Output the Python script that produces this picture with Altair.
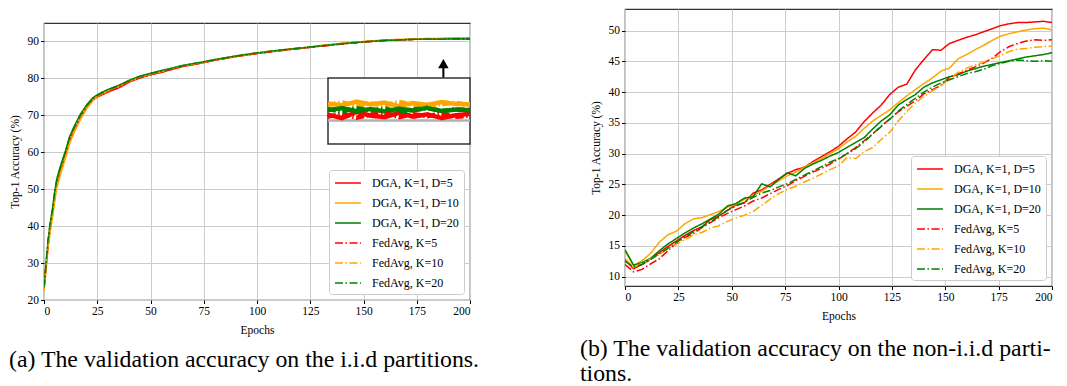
import altair as alt
import pandas as pd

FONT = "Liberation Serif"

series_names = ["DGA, K=1, D=5", "DGA, K=1, D=10", "DGA, K=1, D=20",
                "FedAvg, K=5", "FedAvg, K=10", "FedAvg, K=20"]
series_colors = ["#ff0000", "#ffa500", "#008000", "#ff0000", "#ffa500", "#008000"]
series_dashes = [[1, 0], [1, 0], [1, 0], [8, 2.5, 1.5, 2.5], [8, 2.5, 1.5, 2.5], [8, 2.5, 1.5, 2.5]]

x_ticks = [0, 25, 50, 75, 100, 125, 150, 175, 200]
y_ticks_left = [20, 30, 40, 50, 60, 70, 80, 90]
y_ticks_right = [10, 15, 20, 25, 30, 35, 40, 45, 50]

# ---------------- (a) i.i.d partitions ----------------
epochs_l = [0, 1, 2, 3, 4, 5, 6, 8, 10, 12, 14, 17, 20, 23, 26, 30,
            35, 40, 45, 50, 55, 60, 65, 70, 75, 80, 85, 90, 95, 100, 105, 110, 115, 120,
            125, 130, 135, 140, 145, 150, 155, 160, 165, 170, 175, 180, 185, 190, 195, 200]
l_dga5 = [23.0, 29.0, 35.2, 39.8, 43.5, 47.6, 51.5, 55.4, 59.0, 63.0, 65.6, 69.0, 72.0, 74.2, 75.2, 76.3,
          77.4, 79.0, 80.1, 81.0, 81.6, 82.4, 83.2, 83.7, 84.3, 84.9, 85.4, 85.9, 86.3, 86.8, 87.1, 87.5, 87.8, 88.1,
          88.4, 88.8, 89.1, 89.4, 89.6, 89.9, 90.1, 90.3, 90.4, 90.5, 90.6, 90.6, 90.7, 90.7, 90.7, 90.7]
l_dga10 = [22.5, 28.5, 34.5, 38.8, 42.3, 46.5, 50.3, 54.5, 58.2, 62.3, 65.2, 68.8, 71.8, 74.0, 75.4, 76.6,
           77.8, 79.2, 80.3, 81.1, 81.8, 82.6, 83.3, 83.9, 84.4, 85.0, 85.5, 86.0, 86.4, 86.8, 87.2, 87.5, 87.9, 88.2,
           88.5, 88.9, 89.2, 89.5, 89.7, 90.0, 90.2, 90.4, 90.5, 90.6, 90.7, 90.8, 90.8, 90.9, 90.9, 90.9]
l_dga20 = [23.5, 30.0, 36.5, 41.2, 44.8, 49.2, 52.8, 56.8, 60.2, 64.2, 66.8, 70.2, 72.8, 74.8, 75.9, 77.0,
           78.1, 79.5, 80.6, 81.4, 82.1, 82.8, 83.5, 84.0, 84.5, 85.1, 85.6, 86.1, 86.5, 86.9, 87.3, 87.6, 87.9, 88.2,
           88.5, 88.8, 89.1, 89.4, 89.6, 89.9, 90.1, 90.3, 90.4, 90.5, 90.6, 90.7, 90.7, 90.8, 90.8, 90.8]
l_fed5 = [23.0, 29.8, 35.8, 40.2, 43.8, 48.2, 51.8, 55.8, 59.3, 63.3, 65.8, 69.3, 72.1, 74.3, 75.4, 76.6,
          77.6, 79.1, 80.2, 81.0, 81.8, 82.5, 83.3, 83.8, 84.3, 84.9, 85.4, 85.9, 86.3, 86.7, 87.1, 87.4, 87.8, 88.1,
          88.4, 88.7, 89.0, 89.3, 89.6, 89.8, 90.0, 90.2, 90.3, 90.5, 90.6, 90.6, 90.6, 90.7, 90.7, 90.6]
l_fed10 = [22.8, 29.0, 35.0, 39.5, 43.0, 47.2, 51.0, 55.0, 58.8, 62.8, 65.5, 69.0, 72.0, 74.2, 75.5, 76.7,
           77.9, 79.3, 80.4, 81.2, 81.9, 82.7, 83.4, 83.9, 84.4, 85.0, 85.5, 86.0, 86.4, 86.9, 87.3, 87.6, 87.9, 88.2,
           88.5, 88.9, 89.2, 89.5, 89.7, 90.0, 90.2, 90.4, 90.5, 90.6, 90.7, 90.8, 90.8, 90.8, 90.9, 90.9]
l_fed20 = [23.3, 30.2, 36.8, 41.0, 44.5, 49.0, 52.5, 56.5, 60.0, 64.0, 66.5, 70.0, 72.6, 74.6, 75.7, 76.9,
           78.0, 79.4, 80.5, 81.3, 82.0, 82.7, 83.4, 84.0, 84.5, 85.0, 85.5, 86.0, 86.5, 86.9, 87.2, 87.6, 87.9, 88.2,
           88.5, 88.8, 89.1, 89.4, 89.7, 89.9, 90.1, 90.3, 90.4, 90.5, 90.6, 90.7, 90.7, 90.7, 90.8, 90.8]

# zoomed inset (last epochs)
inset_epochs = [180, 182, 184, 186, 188, 190, 192, 194, 196, 198, 200]
in_dga5 = [90.62, 90.55, 90.68, 90.60, 90.57, 90.66, 90.58, 90.63, 90.55, 90.61, 90.64]
in_dga10 = [90.86, 90.82, 90.90, 90.84, 90.88, 90.80, 90.87, 90.83, 90.89, 90.85, 90.84]
in_dga20 = [90.72, 90.76, 90.70, 90.74, 90.69, 90.75, 90.71, 90.77, 90.70, 90.73, 90.72]
in_fed5 = [90.58, 90.64, 90.56, 90.62, 90.66, 90.57, 90.63, 90.59, 90.65, 90.58, 90.60]
in_fed10 = [90.83, 90.88, 90.81, 90.86, 90.82, 90.89, 90.84, 90.80, 90.85, 90.87, 90.83]
in_fed20 = [90.74, 90.69, 90.76, 90.71, 90.75, 90.68, 90.73, 90.76, 90.70, 90.74, 90.71]
inset_x_domain = [180, 200]
inset_y_domain = [90.0, 91.4]
inset_ref_line = [90.5]
arrow_epoch = [187.5]
arrow_from = [80.2]
arrow_to = [83.0]
arrow_tip = [84.0]

# ---------------- (b) non-i.i.d partitions ----------------
epochs_r = list(range(0, 201, 4))
r_dga5 = [12.8, 11.3, 12.0, 12.9, 13.9, 14.9, 15.8, 16.7, 17.5, 18.1, 19.3, 19.9, 20.8, 21.7, 22.0, 23.6,
          24.1, 25.0, 25.9, 26.8, 27.4, 27.8, 28.7, 29.5, 30.3, 31.2,
          32.4, 33.5, 35.2, 36.6, 37.9, 39.6, 40.8, 41.3, 43.6, 45.3, 46.9, 46.8, 47.9, 48.4, 48.9, 49.3,
          49.8, 50.3, 50.8, 51.1, 51.3, 51.3, 51.4, 51.5, 51.3]
r_dga10 = [14.2, 11.8, 12.6, 13.8, 15.6, 16.8, 17.4, 18.6, 19.4, 19.6, 20.1, 20.6, 21.3, 21.8, 22.6, 23.2,
           23.9, 24.8, 25.6, 26.4, 27.0, 27.8, 28.5, 29.2, 30.0, 30.8,
           31.9, 32.8, 34.1, 35.3, 36.2, 37.1, 38.3, 39.4, 40.4, 41.4, 42.3, 43.4, 43.9, 45.4, 46.1, 46.9,
           47.6, 48.4, 49.1, 49.5, 49.8, 50.1, 50.3, 50.4, 50.1]
r_dga20 = [14.4, 11.9, 12.3, 13.0, 14.2, 15.3, 16.2, 17.1, 17.9, 18.6, 19.4, 20.2, 21.5, 21.9, 22.8, 23.0,
           25.1, 24.6, 25.8, 26.9, 26.4, 27.6, 28.3, 28.9, 29.6, 30.2,
           31.0, 31.8, 32.6, 34.0, 35.3, 36.3, 37.9, 38.8, 39.6, 40.8, 41.5, 42.0, 42.5, 42.8, 43.4, 43.8,
           44.2, 44.5, 44.8, 45.1, 45.4, 45.7, 45.9, 46.1, 46.4]
r_fed5 = [12.0, 10.8, 11.2, 12.1, 12.9, 14.2, 15.4, 16.4, 17.0, 18.0, 18.8, 19.6, 20.3, 20.9, 21.5, 22.3,
          22.8, 23.5, 24.2, 24.8, 25.6, 26.3, 27.0, 27.6, 28.3, 29.1,
          30.0, 31.0, 32.1, 33.2, 34.5, 35.6, 36.8, 37.7, 38.6, 39.7, 40.4, 41.1, 42.4, 43.0, 43.5, 44.1,
          44.7, 45.5, 46.6, 47.4, 47.9, 48.3, 48.5, 48.4, 48.5]
r_fed10 = [13.0, 11.5, 12.2, 12.9, 13.6, 14.5, 15.3, 16.0, 16.8, 17.2, 17.9, 18.3, 19.0, 19.6, 20.0, 20.6,
           21.6, 22.6, 23.5, 24.2, 24.7, 25.4, 26.0, 26.7, 27.4, 28.0,
           29.4, 29.2, 30.3, 31.0, 32.3, 33.5, 35.3, 36.9, 38.2, 39.3, 40.2, 41.1, 42.1, 43.2, 43.9, 44.4,
           44.9, 45.4, 46.0, 46.6, 47.0, 47.1, 47.3, 47.4, 47.5]
r_fed20 = [12.5, 11.6, 12.0, 12.8, 13.7, 14.6, 15.6, 16.5, 17.3, 18.1, 18.9, 19.8, 20.8, 21.5, 22.1, 22.9,
           23.6, 24.0, 24.6, 25.1, 25.8, 26.5, 27.2, 27.9, 28.6, 29.2,
           30.0, 30.8, 31.9, 33.2, 34.4, 35.6, 36.9, 38.0, 39.0, 40.0, 40.8, 41.5, 42.0, 42.5, 43.0, 43.3,
           43.7, 44.3, 44.7, 45.0, 45.2, 45.1, 45.0, 45.1, 45.0]

caption_a = "(a) The validation accuracy on the i.i.d partitions."
caption_b = ["(b) The validation accuracy on the non-i.i.d parti-", "tions."]


def long_df(epochs, lists):
    rows = []
    for order, (name, vals) in enumerate(zip(series_names, lists)):
        for e, v in zip(epochs, vals):
            rows.append({"epoch": e, "acc": v, "series": name, "order": order})
    return pd.DataFrame(rows)


df_l = long_df(epochs_l, [l_dga5, l_dga10, l_dga20, l_fed5, l_fed10, l_fed20])
df_r = long_df(epochs_r, [r_dga5, r_dga10, r_dga20, r_fed5, r_fed10, r_fed20])
df_in = long_df(inset_epochs, [in_dga5, in_dga10, in_dga20, in_fed5, in_fed10, in_fed20])

legend = alt.Legend(
    title=None, orient="bottom-right", offset=6, labelFont=FONT, labelFontSize=12,
    labelColor="black", symbolType="M-1,0H2.7", symbolSize=196, symbolStrokeWidth=1.6,
    rowPadding=6, padding=5, labelOffset=22, strokeColor="#cccccc", fillColor="white",
    cornerRadius=3, labelLimit=300,
)
color_enc = alt.Color("series:N", scale=alt.Scale(domain=series_names, range=series_colors), legend=legend)
dash_enc = alt.StrokeDash("series:N", scale=alt.Scale(domain=series_names, range=series_dashes), legend=legend)
color_nolegend = alt.Color("series:N", scale=alt.Scale(domain=series_names, range=series_colors), legend=None)
dash_nolegend = alt.StrokeDash("series:N", scale=alt.Scale(domain=series_names, range=series_dashes), legend=None)

x_axis = alt.Axis(values=x_ticks, title="Epochs", grid=True)
x_scale = alt.Scale(domain=[0, 200], nice=False, zero=False)


def y_axis(yticks):
    return alt.Axis(values=yticks, title="Top-1 Accuracy (%)", grid=True)


def main_lines(df, ydom, yticks):
    return alt.Chart(df).mark_line(strokeWidth=1.5, clip=True).encode(
        x=alt.X("epoch:Q", scale=x_scale, axis=x_axis),
        y=alt.Y("acc:Q", scale=alt.Scale(domain=ydom, nice=False, zero=False), axis=y_axis(yticks)),
        color=color_enc, strokeDash=dash_enc, order="order:Q",
    )


W_L, H_L = 426, 277
W_R, H_R = 427, 277
ydom_l = [20, 95]

left_lines = main_lines(df_l, ydom_l, y_ticks_left)

arrow_df = pd.DataFrame({"e": arrow_epoch, "a0": arrow_from, "a1": arrow_to, "tip": arrow_tip})
y_scale_l = alt.Scale(domain=ydom_l, nice=False, zero=False)
arrow_rule = alt.Chart(arrow_df).mark_rule(color="black", strokeWidth=2).encode(
    x=alt.X("e:Q", scale=x_scale, axis=x_axis),
    y=alt.Y("a0:Q", scale=y_scale_l, axis=y_axis(y_ticks_left)), y2="a1:Q")
arrow_head = alt.Chart(arrow_df).mark_point(shape="triangle-up", filled=True, color="black",
                                             opacity=1, size=110).encode(
    x=alt.X("e:Q", scale=x_scale, axis=x_axis),
    y=alt.Y("tip:Q", scale=y_scale_l, axis=y_axis(y_ticks_left)))
left_main = alt.layer(left_lines, arrow_rule, arrow_head)

in_xs = alt.Scale(domain=inset_x_domain, range=[284, 426], nice=False, zero=False)
in_ys = alt.Scale(domain=inset_y_domain, range=[121, 55], nice=False, zero=False)
box_df = pd.DataFrame({"x0": [inset_x_domain[0]], "x1": [inset_x_domain[1]],
                       "y0": [inset_y_domain[0]], "y1": [inset_y_domain[1]], "yg": inset_ref_line})
inset_box = alt.Chart(box_df).mark_rect(fill="white", stroke="#333333", strokeWidth=1.5).encode(
    x=alt.X("x0:Q", scale=in_xs, axis=None), x2="x1:Q",
    y=alt.Y("y0:Q", scale=in_ys, axis=None), y2="y1:Q")
inset_rule = alt.Chart(box_df).mark_rule(color="#b0b0b0", strokeWidth=2.5).encode(
    x=alt.X("x0:Q", scale=in_xs, axis=None), x2="x1:Q",
    y=alt.Y("yg:Q", scale=in_ys, axis=None))
inset_lines = alt.Chart(df_in).mark_line(strokeWidth=4.5).encode(
    x=alt.X("epoch:Q", scale=in_xs, axis=None),
    y=alt.Y("acc:Q", scale=in_ys, axis=None),
    color=color_nolegend, strokeDash=dash_nolegend, order="order:Q")
inset = alt.layer(inset_box, inset_rule, inset_lines)

left = alt.layer(left_main, inset).resolve_scale(x="independent", y="independent").properties(
    width=W_L, height=H_L,
    title=alt.TitleParams(caption_a, orient="bottom", anchor="start", font=FONT, fontSize=23.8,
                          fontWeight="normal", color="black", offset=12),
)

spacer = alt.Chart(pd.DataFrame({"v": [0]})).mark_point(opacity=0).encode(
    x=alt.X("v:Q", axis=None), y=alt.Y("v:Q", axis=None)
).properties(width=20, height=12, view=alt.ViewBackground(stroke="transparent"))

right = main_lines(df_r, [8.5, 53.5], y_ticks_right).properties(
    width=W_R, height=H_R,
    title=alt.TitleParams(caption_b, orient="bottom", anchor="start", font=FONT, fontSize=23.8,
                          fontWeight="normal", color="black", offset=15, lineHeight=25, dx=-10),
)

left_col = alt.vconcat(spacer, left, spacing=0).resolve_scale(
    color="independent", strokeDash="independent").resolve_legend(
    color="independent", strokeDash="independent")

chart = alt.hconcat(
    left_col,
    right,
    spacing=98,
).resolve_scale(
    color="independent", strokeDash="independent"
).resolve_legend(
    color="independent", strokeDash="independent"
).properties(
    padding={"left": 0, "top": 0, "right": 0, "bottom": 0}
).configure_view(
    stroke="#333333", strokeWidth=1.2
).configure_axis(
    labelFont=FONT, titleFont=FONT, labelFontSize=11.5, titleFontSize=11.5,
    titleFontWeight="normal", labelColor="black", titleColor="black",
    gridColor="#cccccc", gridWidth=1, tickColor="black", tickSize=3.5,
    domain=False, labelPadding=2, titlePadding=7,
)

chart.save("out.html", embed_options={"renderer": "svg", "actions": False})
